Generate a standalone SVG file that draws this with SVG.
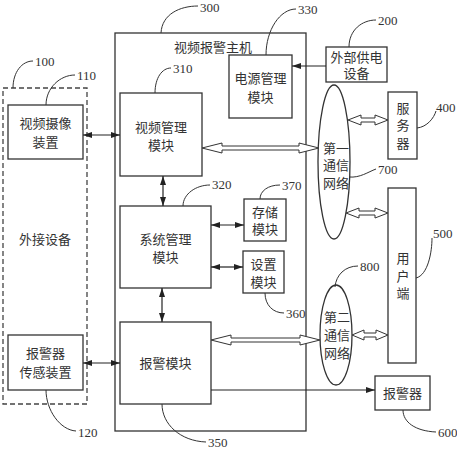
<svg xmlns="http://www.w3.org/2000/svg" width="457" height="450" viewBox="0 0 457 450">
<style>
.b{fill:#fff;stroke:#333;stroke-width:1.3}
.d{fill:none;stroke:#444;stroke-width:1.3;stroke-dasharray:5,3}
.t{font-family:"Liberation Serif","Noto Sans CJK SC",serif;font-size:13px;fill:#333;text-anchor:middle;dominant-baseline:central}
.n{font-family:"Liberation Serif","Noto Sans CJK SC",serif;font-size:13px;fill:#333;text-anchor:start;dominant-baseline:central}
.l{fill:none;stroke:#333;stroke-width:1}
.a{fill:none;stroke:#222;stroke-width:1.2}
.h{fill:#fff;stroke:#333;stroke-width:1}
</style>
<defs>
<marker id="m" viewBox="0 0 9 6" refX="9" refY="3" markerWidth="9" markerHeight="6" markerUnits="userSpaceOnUse" orient="auto-start-reverse"><path d="M0,0 L9,3 L0,6 z" fill="#222"/></marker>
</defs>
<rect width="457" height="450" fill="#fff"/>

<g id="n300"><rect class="b" x="115" y="33" width="191" height="398"/><text class="t" x="213" y="47">视频报警主机</text></g>
<g id="n100"><rect class="d" x="3" y="88" width="84" height="316"/><text class="t" x="45" y="239">外接设备</text></g>
<g id="n110"><rect class="b" x="8" y="105" width="75" height="54"/><text class="t" x="45.5" y="123">视频摄像</text><text class="t" x="45.5" y="142">装置</text></g>
<g id="n120"><rect class="b" x="8" y="335" width="75" height="55"/><text class="t" x="45.5" y="353">报警器</text><text class="t" x="45.5" y="372">传感装置</text></g>
<g id="n310"><rect class="b" x="120" y="93" width="82" height="83"/><text class="t" x="161" y="127">视频管理</text><text class="t" x="161" y="145">模块</text></g>
<g id="n320"><rect class="b" x="120" y="206" width="91" height="82"/><text class="t" x="165.5" y="239">系统管理</text><text class="t" x="165.5" y="257">模块</text></g>
<g id="n350"><rect class="b" x="120" y="322" width="91" height="82"/><text class="t" x="165.5" y="363">报警模块</text></g>
<g id="n330"><rect class="b" x="229" y="55" width="63" height="63"/><text class="t" x="260.5" y="78">电源管理</text><text class="t" x="260.5" y="97">模块</text></g>
<g id="n200"><rect class="b" x="326" y="47" width="61" height="35"/><text class="t" x="356.5" y="57">外部供电</text><text class="t" x="356.5" y="73">设备</text></g>
<g id="n370"><rect class="b" x="244" y="199" width="42" height="42"/><text class="t" x="265" y="212">存储</text><text class="t" x="265" y="229">模块</text></g>
<g id="n360"><rect class="b" x="243" y="251" width="41" height="42"/><text class="t" x="263.5" y="264">设置</text><text class="t" x="263.5" y="282">模块</text></g>
<g id="n700"><ellipse class="b" cx="334" cy="162" rx="16" ry="77"/><text class="t" x="336" y="148">第一</text><text class="t" x="336" y="165">通信</text><text class="t" x="336" y="183">网络</text></g>
<g id="n800"><ellipse class="b" cx="336" cy="335" rx="16" ry="50"/><text class="t" x="337" y="317">第二</text><text class="t" x="337" y="335">通信</text><text class="t" x="337" y="353">网络</text></g>
<g id="n400"><rect class="b" x="388" y="92" width="29" height="67"/><text class="t" x="403" y="108">服</text><text class="t" x="403" y="125">务</text><text class="t" x="403" y="143">器</text></g>
<g id="n500"><rect class="b" x="388" y="188" width="28" height="175"/><text class="t" x="403" y="258">用</text><text class="t" x="403" y="276">户</text><text class="t" x="403" y="293">端</text></g>
<g id="n600"><rect class="b" x="375" y="376" width="55" height="34"/><text class="t" x="402.5" y="393">报警器</text></g>

<g id="connectors">
<line class="a" x1="83" y1="135" x2="120" y2="135" marker-start="url(#m)" marker-end="url(#m)"/>
<line class="a" x1="83" y1="363" x2="120" y2="363" marker-start="url(#m)" marker-end="url(#m)"/>
<line class="a" x1="326" y1="66" x2="292" y2="66" marker-end="url(#m)"/>
<line class="a" x1="163" y1="176" x2="163" y2="206" marker-start="url(#m)" marker-end="url(#m)"/>
<line class="a" x1="162" y1="288" x2="162" y2="322" marker-start="url(#m)" marker-end="url(#m)"/>
<line class="a" x1="211" y1="225" x2="244" y2="225" marker-start="url(#m)" marker-end="url(#m)"/>
<line class="a" x1="211" y1="267" x2="243" y2="267" marker-start="url(#m)" marker-end="url(#m)"/>
<line class="a" x1="211" y1="390" x2="375" y2="390" marker-end="url(#m)"/>
<polygon class="h" points="202,148 222,143 222,146 299,146 299,143 319,148 299,153 299,150 222,150 222,153"/>
<polygon class="h" points="211,340 231,335 231,338 300,338 300,335 320,340 300,345 300,342 231,342 231,345"/>
<polygon class="h" points="348,120 361,115 361,118 375,118 375,115 388,120 375,125 375,122 361,122 361,125"/>
<polygon class="h" points="346,213 359,208 359,211 375,211 375,208 388,213 375,218 375,215 359,215 359,218"/>
<polygon class="h" points="352,335 364,330 364,333 376,333 376,330 388,335 376,340 376,337 364,337 364,340"/>
</g>

<g id="labels">
<path class="l" d="M161,33 C162,14 180,6 198,6"/><text class="n" x="200" y="7">300</text>
<path class="l" d="M266,55 C266,30 280,9 296,9"/><text class="n" x="298" y="9">330</text>
<path class="l" d="M349,47 C349,30 362,20 376,20"/><text class="n" x="378" y="20">200</text>
<path class="l" d="M13,88 C13,72 22,61 33,61"/><text class="n" x="35" y="61">100</text>
<path class="l" d="M46,105 C46,88 60,75 75,75"/><text class="n" x="77" y="75">110</text>
<path class="l" d="M155,93 C155,78 162,68 171,68"/><text class="n" x="173" y="68">310</text>
<path class="l" d="M183,206 C183,194 196,185 210,185"/><text class="n" x="212" y="184">320</text>
<path class="l" d="M260,199 C260,191 268,185 280,185"/><text class="n" x="282" y="185">370</text>
<path class="l" d="M265,293 C265,305 273,313 284,313"/><text class="n" x="286" y="313">360</text>
<path class="l" d="M349,177 C360,178 368,172 376,169"/><text class="n" x="378" y="169">700</text>
<path class="l" d="M335,287 C336,275 345,266 358,266"/><text class="n" x="360" y="266">800</text>
<path class="l" d="M417,128 C427,127 434,118 436,111"/><text class="n" x="436" y="107">400</text>
<path class="l" d="M416,278 C428,275 432,252 432,238"/><text class="n" x="433" y="233">500</text>
<path class="l" d="M46,390 C46,410 60,430 76,431"/><text class="n" x="78" y="432">120</text>
<path class="l" d="M162,404 C162,424 180,441 206,442"/><text class="n" x="208" y="442">350</text>
<path class="l" d="M403,410 C403,422 415,431 436,432"/><text class="n" x="438" y="432">600</text>
</g>
</svg>
